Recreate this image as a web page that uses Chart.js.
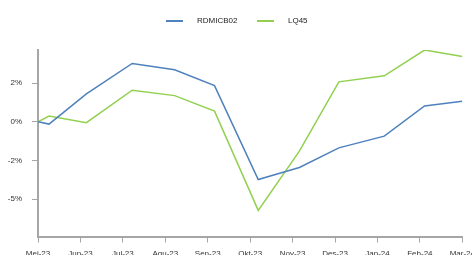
<!DOCTYPE html>
<html>
<head>
<meta charset="utf-8">
<script src="https://cdn.jsdelivr.net/npm/chart.js@4"></script>
<style>
  html, body { margin: 0; padding: 0; background: #fff; overflow: hidden; width: 472px; height: 255px; }
  #wrap { position: absolute; left: 0; top: 0; width: 481px; height: 260px; }
  .lg { position: absolute; font: 8px "Liberation Sans", Arial, sans-serif; color: #222; line-height: 10px; }
  .sw { position: absolute; height: 2px; width: 17px; }
</style>
</head>
<body>
<div id="wrap"><canvas id="chart"></canvas></div>
<div id="legend"></div>
<script>
// month tick labels on the x axis
const months = ["Mei-23", "Jun-23", "Jul-23", "Agu-23", "Sep-23", "Okt-23",
                "Nov-23", "Des-23", "Jan-24", "Feb-24", "Mar-24"];
// where each observation falls, in months since Mei-23
const obsPos = [0, 0.26, 1.14, 2.22, 3.22, 4.16, 5.19, 6.16, 7.09, 8.16, 9.11, 10.0];
// cumulative return, %
const rdmicb02 = [0, -0.15, 1.8, 3.77, 3.36, 2.34, -3.74, -2.96, -1.69, -0.93, 1.02, 1.32];
const lq45 = [0, 0.37, -0.06, 2.04, 1.69, 0.69, -5.73, -1.9, 2.58, 2.97, 4.64, 4.22];
const yTicks = [-5, -2.5, 0, 2.5];

const seriesNames = ["RDMICB02", "LQ45"];
const colors = ["#4f81bd", "#92d050"];

const toPoints = (vals) => vals.map((v, i) => ({ x: obsPos[i], y: v }));

// legend (html, so the gap between swatch and text matches)
const legend = document.getElementById("legend");
const legendX = [166, 257];
seriesNames.forEach((name, i) => {
  const sw = document.createElement("div");
  sw.className = "sw";
  sw.style.left = legendX[i] + "px";
  sw.style.top = "20px";
  sw.style.background = colors[i];
  legend.appendChild(sw);
  const t = document.createElement("div");
  t.className = "lg";
  t.style.left = (legendX[i] + 31) + "px";
  t.style.top = "16px";
  t.textContent = name;
  legend.appendChild(t);
});

const axisGrey = "#a6a6a6";
const tickFont = { family: "'Liberation Sans', Arial, sans-serif", size: 8 };

new Chart(document.getElementById("chart"), {
  type: "line",
  data: {
    datasets: [
      { label: seriesNames[0], data: toPoints(rdmicb02), borderColor: colors[0], backgroundColor: colors[0] },
      { label: seriesNames[1], data: toPoints(lq45), borderColor: colors[1], backgroundColor: colors[1] },
    ],
  },
  options: {
    responsive: true,
    maintainAspectRatio: false,
    animation: false,
    layout: { padding: { top: 50, left: 0, right: 0, bottom: 0 } },
    elements: {
      line: { borderWidth: 1.5, tension: 0 },
      point: { radius: 0 },
    },
    plugins: {
      legend: { display: false },
      tooltip: { enabled: false },
    },
    scales: {
      x: {
        type: "linear",
        min: 0,
        max: 10,
        afterFit: (s) => { s.height = 23.5; },
        afterBuildTicks: (s) => { s.ticks = months.map((m, i) => ({ value: i })); },
        ticks: {
          autoSkip: false,
          maxRotation: 0,
          padding: 6,
          color: "#333",
          font: tickFont,
          callback: (v) => months[v],
        },
        grid: { drawOnChartArea: false, drawTicks: true, tickLength: 6, color: axisGrey, lineWidth: 1 },
        border: { display: true, color: axisGrey, width: 2 },
      },
      y: {
        min: -7.42,
        max: 4.64,
        afterFit: (s) => { s.width = 38; },
        afterBuildTicks: (s) => { s.ticks = yTicks.map((v) => ({ value: v })); },
        ticks: {
          padding: 10,
          color: "#333",
          font: tickFont,
          callback: (v) => Math.trunc(v) + "%",
        },
        grid: { drawOnChartArea: false, drawTicks: true, tickLength: 6, color: axisGrey, lineWidth: 1 },
        border: { display: true, color: axisGrey, width: 2 },
      },
    },
  },
});
</script>
</body>
</html>
